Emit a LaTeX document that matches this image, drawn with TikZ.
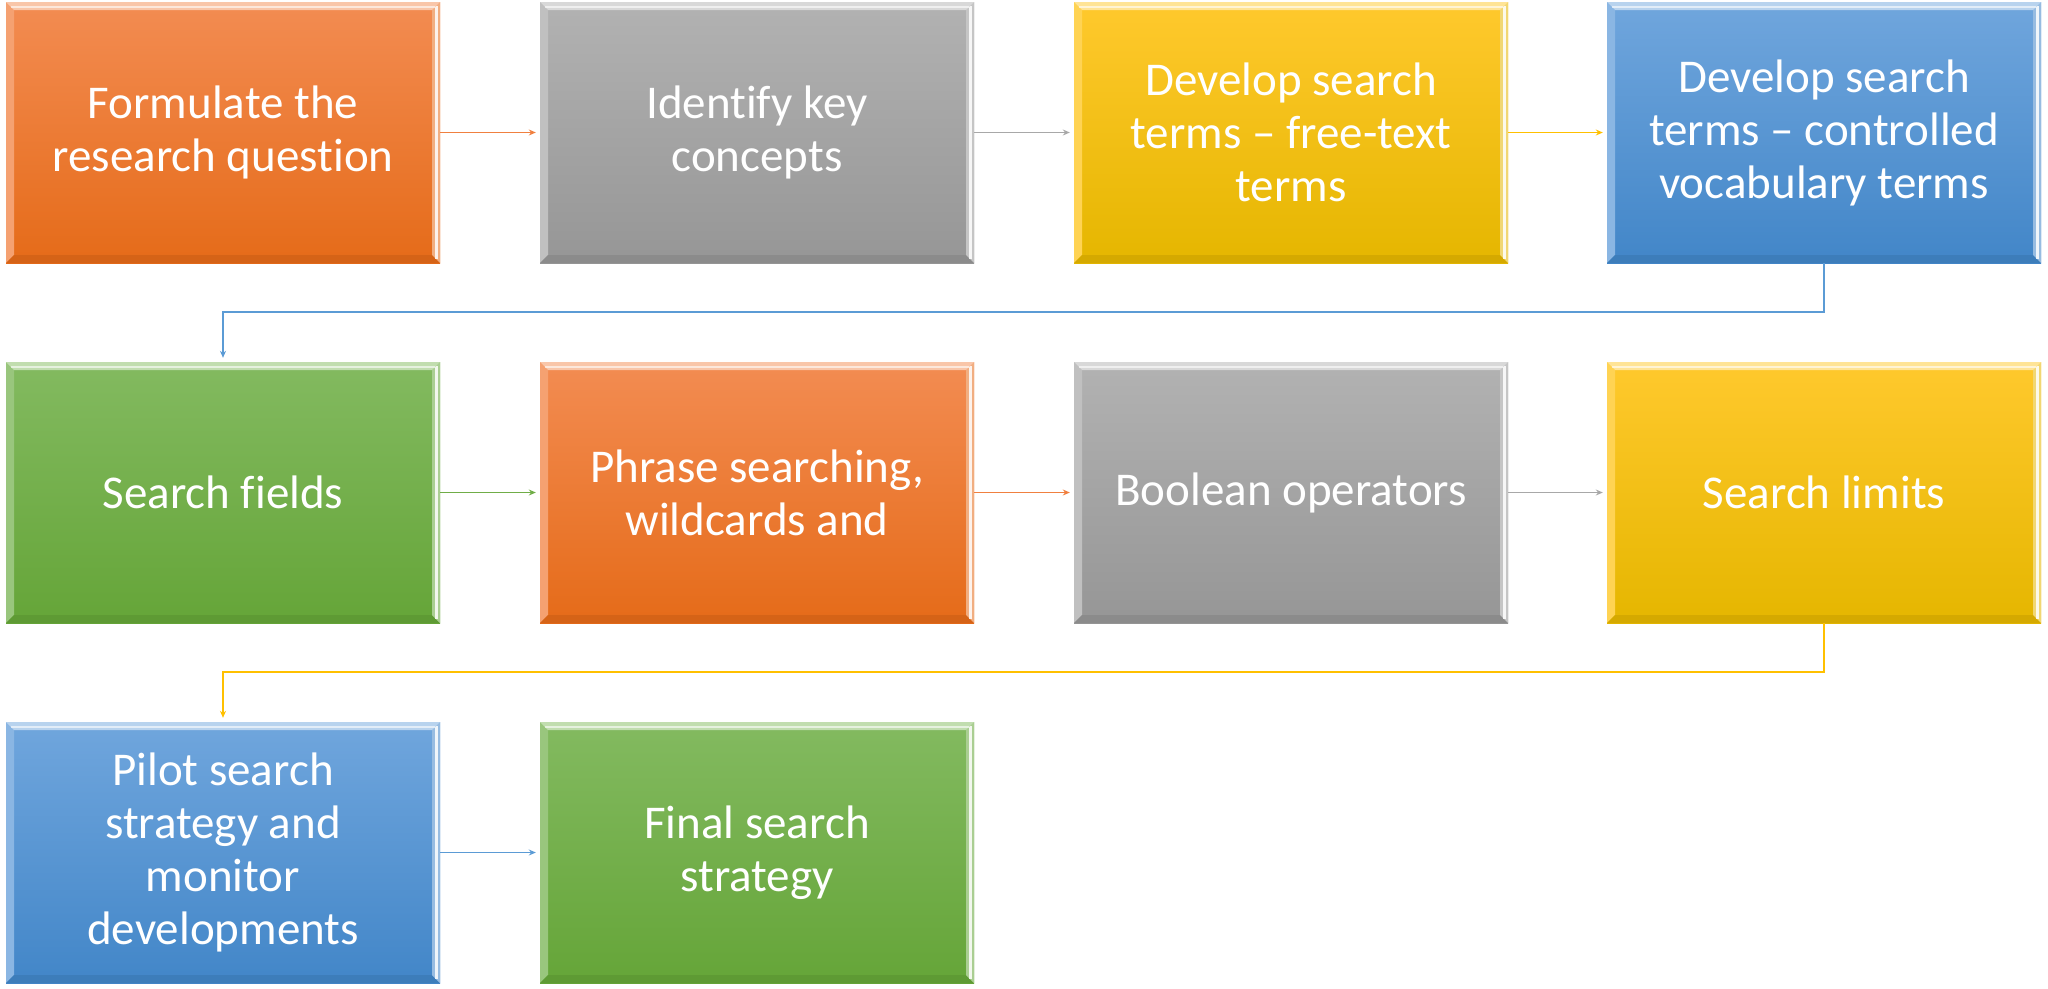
\documentclass[tikz,border=0pt]{standalone}
\usepackage{fontspec}
\setmainfont{Carlito}[Ligatures=NoCommon]
\usetikzlibrary{arrows.meta}

% face colours (top / bottom of the gradient) and connector colours
\definecolor{orgT}{RGB}{243,140,82}
\definecolor{orgB}{RGB}{229,107,25}
\definecolor{gryT}{RGB}{178,178,178}
\definecolor{gryB}{RGB}{150,150,150}
\definecolor{gldT}{RGB}{255,201,45}
\definecolor{gldB}{RGB}{229,182,0}
\definecolor{bluT}{RGB}{112,166,221}
\definecolor{bluB}{RGB}{66,134,200}
\definecolor{grnT}{RGB}{131,186,96}
\definecolor{grnB}{RGB}{101,165,56}
\definecolor{orgL}{RGB}{240,128,64}
\definecolor{gryL}{RGB}{168,168,168}
\definecolor{gldL}{RGB}{255,192,0}
\definecolor{bluL}{RGB}{91,155,213}
\definecolor{grnL}{RGB}{112,173,71}

\tikzset{
  x=1pt, y=-1pt,
  flowbox/.style 2 args={
    rectangle, inner sep=0pt, minimum width=434pt, minimum height=261pt,
    top color=#1, bottom color=#2, text=white, align=center,
    font=\fontsize{47}{53}\selectfont,
    path picture={
      % left bevel
      \fill[#1!82!white]
        (path picture bounding box.north west)
        -- ([shift={(8pt,-8pt)}]path picture bounding box.north west)
        -- ([shift={(8pt,8pt)}]path picture bounding box.south west)
        -- (path picture bounding box.south west) -- cycle;
      % bottom bevel
      \fill[#2!93!black]
        (path picture bounding box.south west)
        -- ([shift={(8pt,8pt)}]path picture bounding box.south west)
        -- ([shift={(-8pt,8pt)}]path picture bounding box.south east)
        -- (path picture bounding box.south east) -- cycle;
      % right bevel with its light rim
      \fill[#2!55!white]
        (path picture bounding box.north east)
        -- ([shift={(-8pt,-8pt)}]path picture bounding box.north east)
        -- ([shift={(-8pt,8pt)}]path picture bounding box.south east)
        -- (path picture bounding box.south east) -- cycle;
      \draw[white, opacity=0.85, line width=2.5pt]
        ([xshift=-3.5pt,yshift=-4pt]path picture bounding box.north east)
        -- ([xshift=-3.5pt,yshift=4pt]path picture bounding box.south east);
      % top bevel with its highlight
      \fill[#1!50!white]
        (path picture bounding box.north west) -- (path picture bounding box.north east)
        -- ([shift={(-8pt,-8pt)}]path picture bounding box.north east)
        -- ([shift={(8pt,-8pt)}]path picture bounding box.north west) -- cycle;
      \draw[white, opacity=0.6, line width=2pt]
        ([shift={(5pt,-4.5pt)}]path picture bounding box.north west)
        -- ([shift={(-5pt,-4.5pt)}]path picture bounding box.north east);
    }
  },
  link/.style={line width=1.6pt, draw=#1,
    -{Stealth[length=7pt,width=6pt]}, shorten >=4pt}
}

\begin{document}
\begin{tikzpicture}
\useasboundingbox (0,0) rectangle (2048,988);

% row 1
\node[flowbox={orgT}{orgB}] (n1) at (223,132.5) {Formulate the\\research question};
\node[flowbox={gryT}{gryB}] (n2) at (757,132.5) {Identify key\\concepts};
\node[flowbox={gldT}{gldB}] (n3) at (1291,132.5) {Develop search\\terms – free-text\\terms};
\node[flowbox={bluT}{bluB}] (n4) at (1824,132.5) {Develop search\\terms – controlled\\vocabulary terms};

% row 2
\node[flowbox={grnT}{grnB}] (n5) at (223,492.5) {Search fields};
\node[flowbox={orgT}{orgB}] (n6) at (757,492.5) {Phrase searching,\\wildcards and};
\node[flowbox={gryT}{gryB}] (n7) at (1291,492.5) {Boolean operators};
\node[flowbox={gldT}{gldB}] (n8) at (1824,492.5) {Search limits};

% row 3
\node[flowbox={bluT}{bluB}] (n9) at (223,852.5) {Pilot search\\strategy and\\monitor\\developments};
\node[flowbox={grnT}{grnB}] (n10) at (757,852.5) {Final search\\strategy};

% turning points between rows
\coordinate (m1) at (0,312);
\coordinate (m2) at (0,672);

% connectors
\draw[link=orgL] (n1.east) -- (n2.west);
\draw[link=gryL] (n2.east) -- (n3.west);
\draw[link=gldL] (n3.east) -- (n4.west);
\draw[link=bluL] (n4.south) -- (n4.south |- m1) -| (n5.north);
\draw[link=grnL] (n5.east) -- (n6.west);
\draw[link=orgL] (n6.east) -- (n7.west);
\draw[link=gryL] (n7.east) -- (n8.west);
\draw[link=gldL] (n8.south) -- (n8.south |- m2) -| (n9.north);
\draw[link=bluL] (n9.east) -- (n10.west);
\end{tikzpicture}
\end{document}
